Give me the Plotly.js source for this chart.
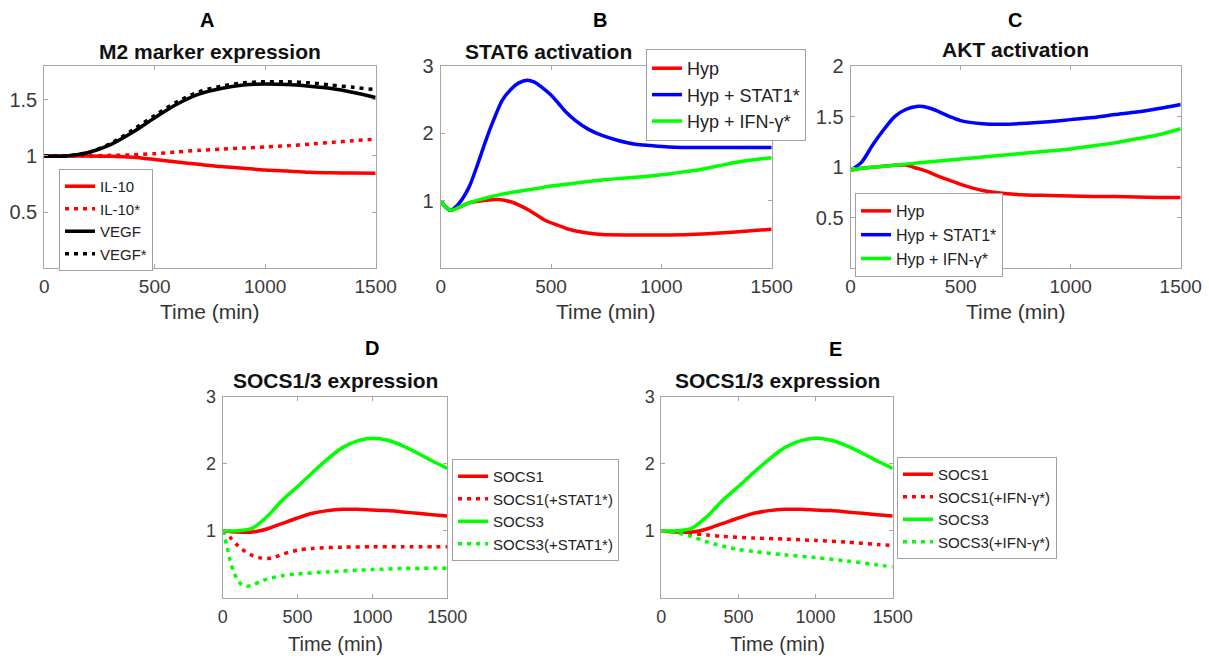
<!DOCTYPE html>
<html>
<head>
<meta charset="utf-8">
<script src="https://cdn.plot.ly/plotly-3.0.1.min.js"></script>
<style>html,body{margin:0;padding:0;background:#fff;}#chart{width:1209px;height:658px;}</style>
</head>
<body>
<div id="chart"></div>
<script>
// ---------- Panel A : M2 marker expression ----------
const aTime  = [0,100,200,300,400,500,600,700,800,900,1000,1100,1200,1300,1400,1500];
const aIL10  = [1,1,1.0,0.997,0.988,0.968,0.946,0.925,0.905,0.89,0.875,0.865,0.855,0.85,0.848,0.847];
const aIL10s = [1,1,1.0,1.005,1.01,1.02,1.035,1.05,1.06,1.07,1.08,1.09,1.105,1.12,1.135,1.15];
const aVEGF  = [1,1.0,1.03,1.1,1.21,1.34,1.46,1.55,1.6,1.63,1.64,1.635,1.62,1.6,1.565,1.52];
const aVEGFs = [1,1.0,1.03,1.11,1.23,1.36,1.48,1.57,1.62,1.65,1.66,1.66,1.65,1.63,1.61,1.59];

// ---------- Panel B : STAT6 activation ----------
const bTimeRed   = [0,20,45,80,128,204,264,324,360,400,440,475,530,580,650,731,882,1033,1183,1334,1500];
const bRed       = [1.0,0.92,0.86,0.9,0.97,1.01,1.02,0.98,0.93,0.86,0.78,0.71,0.64,0.58,0.53,0.5,0.495,0.495,0.51,0.54,0.58];
const bTimeBlue  = [0,20,45,80,128,165,204,240,279,320,354,392,425,460,500,535,570,611,670,731,800,882,950,1033,1200,1500];
const bBlue      = [1.0,0.92,0.86,0.95,1.2,1.52,1.89,2.2,2.49,2.66,2.75,2.79,2.76,2.68,2.57,2.44,2.31,2.19,2.06,1.97,1.9,1.84,1.82,1.8,1.79,1.79];
const bTimeGreen = [0,20,45,80,128,200,279,350,430,500,580,650,731,800,882,950,1033,1100,1183,1260,1334,1420,1500];
const bGreen     = [1.0,0.92,0.86,0.9,0.97,1.04,1.1,1.14,1.18,1.22,1.25,1.28,1.31,1.33,1.35,1.37,1.4,1.43,1.47,1.52,1.57,1.61,1.64];

// ---------- Panel C : AKT activation ----------
const cTime  = [0,50,100,150,200,250,300,350,400,450,500,600,700,800,900,1000,1100,1200,1300,1400,1500];
const cRed   = [0.97,0.99,1.0,1.01,1.02,1.02,0.99,0.955,0.91,0.87,0.83,0.77,0.74,0.725,0.72,0.715,0.71,0.71,0.705,0.7,0.7];
const cBlue  = [0.97,1.05,1.22,1.37,1.5,1.57,1.6,1.59,1.55,1.5,1.46,1.43,1.425,1.435,1.45,1.47,1.49,1.52,1.545,1.58,1.62];
const cGreen = [0.97,0.99,1.0,1.01,1.02,1.03,1.04,1.05,1.06,1.07,1.08,1.1,1.12,1.14,1.16,1.18,1.21,1.24,1.28,1.32,1.38];

// ---------- Panels D & E : SOCS1/3 expression ----------
const sTime  = [0,100,200,300,400,500,600,700,800,900,1000,1100,1200,1300,1400,1500];
const sSOCS1 = [1,0.98,0.98,1.03,1.11,1.19,1.26,1.3,1.32,1.32,1.31,1.3,1.28,1.26,1.24,1.22];
const sSOCS3 = [1,1.0,1.04,1.22,1.46,1.66,1.87,2.07,2.24,2.34,2.38,2.35,2.27,2.16,2.04,1.93];
const dS1Time = [0,50,100,150,200,250,300,350,400,500,600,800,1000,1200,1500];
const dSOCS1s = [1,0.9,0.78,0.69,0.63,0.595,0.585,0.61,0.65,0.71,0.735,0.755,0.76,0.76,0.76];
const dS3Time = [0,25,50,75,100,130,160,200,250,300,400,500,700,1000,1200,1500];
const dSOCS3s = [1,0.8,0.55,0.38,0.26,0.19,0.17,0.19,0.24,0.28,0.33,0.355,0.385,0.42,0.435,0.44];
const eS1Time = [0,100,200,300,400,600,800,1000,1200,1400,1500];
const eSOCS1s = [1,0.985,0.96,0.935,0.915,0.89,0.875,0.855,0.83,0.795,0.78];
const eS3Time = [0,100,200,300,400,500,600,800,1000,1200,1400,1500];
const eSOCS3s = [1,0.97,0.91,0.83,0.77,0.72,0.69,0.64,0.6,0.55,0.49,0.46];

const xTicks = [0,500,1000,1500];
const RED = '#ff0000', BLUE = '#0000ff', GREEN = '#00ff00', BLACK = '#000000';
const LW = 3.5;
const DOT = '4px,5px';

function tr(x, y, name, color, dash, xa, ya, leg) {
  return {x: x, y: y, name: name, type: 'scatter', mode: 'lines',
    line: {color: color, width: LW, dash: dash || 'solid', shape: 'spline', smoothing: 0.8},
    xaxis: xa, yaxis: ya, legend: leg, hoverinfo: 'skip'};
}

const data = [
  tr(aTime, aIL10, 'IL-10', RED, 'solid', 'x', 'y', 'legend'),
  tr(aTime, aIL10s, 'IL-10*', RED, DOT, 'x', 'y', 'legend'),
  tr(aTime, aVEGF, 'VEGF', BLACK, 'solid', 'x', 'y', 'legend'),
  tr(aTime, aVEGFs, 'VEGF*', BLACK, DOT, 'x', 'y', 'legend'),

  tr(bTimeRed, bRed, 'Hyp', RED, 'solid', 'x2', 'y2', 'legend2'),
  tr(bTimeBlue, bBlue, 'Hyp + STAT1*', BLUE, 'solid', 'x2', 'y2', 'legend2'),
  tr(bTimeGreen, bGreen, 'Hyp + IFN-γ*', GREEN, 'solid', 'x2', 'y2', 'legend2'),

  tr(cTime, cRed, 'Hyp', RED, 'solid', 'x3', 'y3', 'legend3'),
  tr(cTime, cBlue, 'Hyp + STAT1*', BLUE, 'solid', 'x3', 'y3', 'legend3'),
  tr(cTime, cGreen, 'Hyp + IFN-γ*', GREEN, 'solid', 'x3', 'y3', 'legend3'),

  tr(sTime, sSOCS1, 'SOCS1', RED, 'solid', 'x4', 'y4', 'legend4'),
  tr(dS1Time, dSOCS1s, 'SOCS1(+STAT1*)', RED, DOT, 'x4', 'y4', 'legend4'),
  tr(sTime, sSOCS3, 'SOCS3', GREEN, 'solid', 'x4', 'y4', 'legend4'),
  tr(dS3Time, dSOCS3s, 'SOCS3(+STAT1*)', GREEN, DOT, 'x4', 'y4', 'legend4'),

  tr(sTime, sSOCS1, 'SOCS1', RED, 'solid', 'x5', 'y5', 'legend5'),
  tr(eS1Time, eSOCS1s, 'SOCS1(+IFN-γ*)', RED, DOT, 'x5', 'y5', 'legend5'),
  tr(sTime, sSOCS3, 'SOCS3', GREEN, 'solid', 'x5', 'y5', 'legend5'),
  tr(eS3Time, eSOCS3s, 'SOCS3(+IFN-γ*)', GREEN, DOT, 'x5', 'y5', 'legend5')
];

const FONT = 'Liberation Sans, Arial, sans-serif';
const AXC = '#a6a6a6';
function xax(dom, anchor, size, standoff) {
  return {domain: dom, anchor: anchor, range: [0, 1500], tickvals: xTicks, ticktext: xTicks.map(String),
    showline: true, linecolor: AXC, linewidth: 1, mirror: 'ticks', ticks: 'inside', ticklen: 4, tickcolor: AXC,
    showgrid: false, zeroline: false, fixedrange: true, ticklabelstandoff: standoff,
    tickfont: {family: FONT, size: size, color: '#3a3a3a'}};
}
function yax(dom, anchor, range, vals, size) {
  return {domain: dom, anchor: anchor, range: range, tickvals: vals, ticktext: vals.map(String),
    showline: true, linecolor: AXC, linewidth: 1, mirror: 'ticks', ticks: 'inside', ticklen: 4, tickcolor: AXC,
    showgrid: false, zeroline: false, fixedrange: true, ticklabelstandoff: 2,
    tickfont: {family: FONT, size: size, color: '#3a3a3a'}};
}
function leg(x, y, size) {
  return {x: x, y: y, xanchor: 'left', yanchor: 'top', bgcolor: '#ffffff', bordercolor: '#a0a0a0', borderwidth: 1,
    font: {family: FONT, size: size, color: '#222'}, itemwidth: 30, tracegroupgap: 0, itemclick: false};
}
const W = 1209, H = 658;
function ann(text, px, py, size, bold, color) {
  return {text: bold ? '<b>' + text + '</b>' : text, x: px / W, y: 1 - py / H, xref: 'paper', yref: 'paper',
    xanchor: 'center', yanchor: 'middle', showarrow: false,
    font: {family: FONT, size: size, color: color || '#111'}};
}
const topY = [0.5922, 0.8997];
const botY = [0.0916, 0.3971];

const layout = {
  width: W, height: H, margin: {l: 0, r: 0, t: 0, b: 0},
  paper_bgcolor: '#ffffff', plot_bgcolor: '#ffffff', showlegend: true,
  xaxis:  xax([0.0366, 0.3107], 'y', 19, 1),
  yaxis:  yax(topY, 'x', [0, 1.8], [0.5, 1, 1.5], 20),
  xaxis2: xax([0.3645, 0.6383], 'y2', 19, 1),
  yaxis2: yax(topY, 'x2', [0, 3], [1, 2, 3], 20),
  xaxis3: xax([0.7036, 0.9766], 'y3', 19, 1),
  yaxis3: yax(topY, 'x3', [0, 2], [0.5, 1, 1.5, 2], 20),
  xaxis4: xax([0.1842, 0.3700], 'y4', 18, 3),
  yaxis4: yax(botY, 'x4', [0, 3], [1, 2, 3], 18),
  xaxis5: xax([0.5470, 0.7384], 'y5', 18, 3),
  yaxis5: yax(botY, 'x5', [0, 3], [1, 2, 3], 18),
  legend:  leg(0.0488, 0.7432, 15),
  legend2: leg(0.5343, 0.9255, 18),
  legend3: leg(0.7072, 0.7067, 16),
  legend4: leg(0.3739, 0.3024, 15),
  legend5: leg(0.7419, 0.3055, 15),
  annotations: [
    ann('A', 207, 20, 20, true, '#000'),
    ann('B', 600, 20, 20, true, '#000'),
    ann('C', 1015, 20, 20, true, '#000'),
    ann('D', 372, 348, 20, true, '#000'),
    ann('E', 835, 349, 20, true, '#000'),
    ann('M2 marker expression', 210, 52, 21, true),
    ann('STAT6 activation', 548, 51, 21, true),
    ann('AKT activation', 1015, 50, 21, true),
    ann('SOCS1/3 expression', 335, 380, 21, true),
    ann('SOCS1/3 expression', 777, 380, 21, true),
    ann('Time (min)', 210, 311, 21, false, '#333'),
    ann('Time (min)', 606, 311, 21, false, '#333'),
    ann('Time (min)', 1016, 311, 21, false, '#333'),
    ann('Time (min)', 335, 644, 20, false, '#333'),
    ann('Time (min)', 777, 644, 20, false, '#333')
  ]
};

Plotly.newPlot('chart', data, layout, {staticPlot: true, displayModeBar: false});
</script>
</body>
</html>
